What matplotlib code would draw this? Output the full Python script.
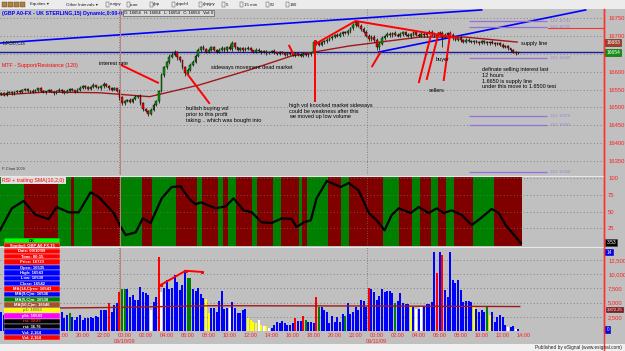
import matplotlib
matplotlib.use('Agg')
import matplotlib.pyplot as plt
from matplotlib.patches import Rectangle
from matplotlib.transforms import blended_transform_factory as btf
import numpy as np

plt.rcParams['font.family'] = ['Liberation Sans', 'DejaVu Sans']

# ---------------- data ----------------
first_open = 16538
closes = [16540, 16536, 16541, 16544, 16539, 16542,
          16546, 16543, 16548, 16551, 16545, 16547,
          16544, 16549, 16553, 16547, 16542, 16545,
          16548, 16544, 16540, 16546, 16550, 16545,
          16541, 16547, 16552, 16548, 16544, 16549,
          16555, 16560, 16557, 16552, 16558, 16562,
          16556, 16553, 16559, 16565, 16560, 16554,
          16550, 16553, 16546, 16528, 16512,
          16518, 16522, 16516, 16524, 16530, 16533,
          16512, 16496, 16490, 16482, 16494, 16506,
          16518, 16546, 16590, 16612, 16626, 16642,
          16648, 16655, 16640, 16632, 16612, 16596,
          16606, 16620, 16628, 16645, 16662, 16670,
          16664, 16656, 16662, 16668, 16660, 16656,
          16662, 16666, 16660, 16670, 16664, 16680,
          16668, 16662, 16665, 16660, 16664, 16667,
          16660, 16656, 16662, 16658, 16654, 16657,
          16652, 16656, 16659, 16654, 16650, 16655,
          16652, 16648, 16653, 16650, 16646, 16651,
          16648, 16644, 16650, 16646, 16649, 16652,
          16684, 16680, 16676, 16682, 16685, 16690,
          16694, 16698, 16702, 16700, 16706, 16710,
          16708, 16714, 16722, 16730, 16738, 16728,
          16720, 16712, 16700, 16692, 16698, 16688,
          16668, 16678, 16694, 16700, 16706, 16702,
          16708, 16704, 16700, 16706, 16710, 16703,
          16699, 16705, 16710, 16704, 16700, 16706,
          16702, 16708, 16712, 16705, 16700, 16706,
          16709, 16698, 16704, 16708, 16703, 16695,
          16690, 16694, 16688, 16684, 16690, 16686,
          16682, 16686, 16684, 16680, 16685, 16682,
          16679, 16684, 16681, 16677, 16680, 16676,
          16670, 16672, 16665, 16660, 16656, 16652, 16654]
wick_up = [3,2,4,2,3,5,2,3,4,2,3,2,5,3,2,4,3,2,3,4,
           2,3,5,2,3,4,2,3,2,4,6,3,2,4,3,5,2,3,4,6,
           3,2,4,3,2,5,4,3,2,4,3,5,2,4,3,2,3,4,5,3,
           4,6,5,4,8,6,5,3,4,2,5,4,3,6,5,4,3,5,2,4,
           3,5,4,3,6,4,3,7,5,3,2,4,3,5,4,3,2,4,3,2,
           3,4,2,3,4,2,3,2,4,3,2,3,4,2,3,4,2,3,3,5,
           4,6,3,4,5,3,4,3,5,4,3,5,6,4,5,4,3,5,4,6,
           5,4,6,5,4,6,3,5,4,3,5,4,6,3,4,5,3,4,5,3,
           4,5,3,6,4,5,3,4,6,4,3,5,4,3,4,5,3,4,3,4,
           3,4,2,3,4,3,2,4,3,2,3,4,2,3,2,3,2,2]
wick_dn = [2,4,3,2,5,3,3,2,4,3,2,4,3,2,5,3,2,4,3,2,
           4,3,2,5,3,2,4,3,3,2,4,3,5,2,3,4,3,2,3,4,
           3,5,3,2,4,6,5,4,3,5,4,3,4,6,5,4,7,3,4,3,
           5,4,6,5,4,5,3,6,4,5,7,5,4,3,5,4,6,4,3,5,
           4,3,5,4,3,6,4,3,5,4,3,4,5,3,4,3,5,4,3,4,
           3,4,3,5,4,3,4,3,5,3,4,3,4,5,3,4,3,4,4,3,
           5,4,3,5,4,3,4,5,3,4,5,3,4,5,6,5,4,6,5,4,
           6,5,4,8,6,4,5,3,4,5,3,4,3,5,4,3,4,5,3,4,
           3,4,5,3,4,3,5,4,28,5,4,3,5,4,3,4,5,3,4,3,
           4,3,4,3,5,3,4,3,4,3,5,4,3,4,5,3,4,3]

# 50-bar MA of close (read at a few bars)
ma_bars = [0, 18, 38, 57, 76, 95, 111, 133, 160, 177, 197]
ma_vals = [16535, 16543, 16541, 16530, 16563, 16605, 16644, 16672, 16697, 16697, 16683]

# trend lines (bar index, price)
trend1_bars, trend1_vals = [-0.5, 183.5], [16680, 16773]
trend2_bars, trend2_vals = [144.3, 223.1], [16655, 16773]
support_level = 16654

# MTF support / resistance (120) levels
sr_levels = [16741, 16725, 16639, 16476, 16451, 16320]

# RSI line (bar index, value)
rsi_bars = [0, 4.5, 9, 13.6, 18.5, 21.6, 26.2, 30, 34.5, 37.6, 43.3, 46, 47.9, 51.7,
            54.4, 57.4, 61.6, 65.4, 68.8, 71.9, 74.5, 76.5, 82.2, 86, 89, 92.8, 95.9,
            99.7, 103.5, 107.3, 111.1, 113, 115.7, 118.4, 120.6, 124.5, 129.8, 132.8,
            136.6, 140.5, 143.5, 146.5, 149.2, 151.9, 156.5, 159.5, 163.3, 166.4, 169,
            172.1, 175.9, 179.7, 183.1, 187.3, 190, 192.6, 198.4]
rsi_vals = [22, 55, 66, 45, 39, 57, 49, 49, 79, 72, 48, 27, 15, 19,
            40, 33, 70, 87, 88, 70, 61, 64, 55, 58, 70, 52, 49,
            34, 33, 40, 39, 27, 34, 37, 70, 96, 87, 93,
            82, 48, 37, 22, 45, 55, 48, 57, 48, 55, 48,
            52, 45, 30, 40, 54, 48, 30, 3]
# trailing-SMA state bands (bar boundaries), starting green, alternating
band_edges = [0, 9, 22, 27, 28, 35, 46, 54, 58, 67, 75, 77, 83, 85, 87, 90, 96, 98,
              104, 107, 114, 115, 117, 125, 130, 133, 146, 152, 157, 160, 164, 167,
              170, 173, 180, 188, 199]

# volume
volumes = [3300, 2800, 3000, 2600, 2400, 3100, 2900, 2500, 2700, 3200, 2600, 2300,
           2800, 3000, 2500, 2700, 2900, 2400, 2600, 3100, 2800, 2500, 2900,
           3300, 2300, 2800, 3200, 2500, 1900, 2500, 2800, 1900, 2300,
           2300, 2500, 2300, 2600, 2500, 3700, 3700, 3700, 4900, 3300,
           4600, 4900, 6900, 7400, 7400, 7400, 6000, 6300, 5500, 5500,
           7700, 6900, 6700, 6300, 3700, 5100, 6000, 13000, 6900, 7600,
           9000, 7400, 7600, 9900, 8600, 7200, 8100, 10700, 9300, 9300,
           7400, 7000, 7600, 6500, 5800, 5600, 3200, 4000, 4000, 3300,
           5300, 7000, 3900, 4000, 4000, 5100, 4000, 3200, 3200, 3700,
           3900, 2300, 1900, 1600, 1400, 1900, 1000, 900, 900, 500,
           500, 1000, 1600, 1400, 1800, 1400, 1000, 1000, 1400, 2300,
           1800, 1800, 2600, 1900, 1600, 1600, 1400, 6000, 4200, 4200,
           3700, 3300, 1400, 2600, 1600, 2500, 1600, 3000, 2600, 4900,
           3000, 3300, 4200, 3700, 5500, 5300, 4200, 7600, 7400, 6900,
           5500, 6200, 7400, 6900, 7000, 7100, 6700, 4900, 5300, 6700,
           4900, 4800, 4800, 4200, 4200, 3900, 3900, 4200, 4400, 4800,
           4800, 5100, 13900, 10200, 13900, 13400, 7200, 6000, 13900, 9000,
           8400, 9000, 7200, 5100, 5300, 5300, 5100, 4200, 3900, 3300,
           3700, 3300, 4200, 2800, 3300, 1600, 2500, 2800, 2500, 1000,
           750, 700, 900, 350, 300]
vol_codes = list("bbbbbbbbbb" "bbbbbbbbbb" "bbbbbbgbbb" "bbbbbbbbbb" "brbbbrggbb"
                 "bbbbbbbwbb" "rwbbbbbbbb" "bggbbbbbyy" "bbbbbbbwbb" "bbbbyyyywy"
                 "wywbbbbbbb" "bbrbbrgbbb" "rgbbbbbbbb" "bgbbbbbbbb" "rbbbbbbbbb"
                 "gbbbbbybwb" "wbbbbbrbrb" "bbbbbbbbbb" "ybbbbgybbb" "bbbwbbwb")
vol_ma_bars = [22, 45, 80, 140, 198]
vol_ma_vals = [4050, 4150, 4450, 4400, 4300]

# time axis (labels under the data window are hidden in the reference)
time_ticks = [23, 31, 39, 47, 55, 63, 71, 79, 87, 95, 103, 111, 119, 127,
              135, 143, 151, 159, 167, 175, 183, 191, 199]
time_labels = ['18:00', '20:00', '22:00', '00:00', '02:00', '04:00',
               '06:00', '08:00', '10:00', '12:00', '14:00', '16:00', '18:00', '20:00',
               '22:00', '00:00', '02:00', '04:00', '06:00', '08:00', '10:00', '12:00',
               '14:00']
date_ticks = [47, 143]
date_labels = ['09/10/09', '09/11/09']
session_breaks = [45.2, 139.8]

price_ticks = [16350, 16400, 16450, 16500, 16550, 16600, 16650, 16700, 16750]
price_labels = ['16350', '16400', '16450', '16500', '16550', '16600', '', '16700', '16750']
rsi_ticks = [25, 50, 75, 100]
vol_ticks = [2500, 5000, 7500, 10000, 12500]

data_window = [("OK", '#00ff00', 'black'),
               ("Symbol: GBP A0-FX,15", '#ff0000', 'white'),
               ("Date: 09/10/09", '#ff0000', 'white'),
               ("Time: 00:15", '#ff0000', 'white'),
               ("Price: 16723", '#ff0000', 'white'),
               ("Open: 16535", '#0000ff', 'white'),
               ("High: 16543", '#0000ff', 'white'),
               ("Low: 16530", '#0000ff', 'white'),
               ("Close: 16542", '#0000ff', 'white'),
               ("MA(14,C)rev: 16543", '#ff0000', 'white'),
               ("MA(9,C)m: 16536", '#0000ff', 'white'),
               ("MA(5,C)m: 16538", '#008000', 'white'),
               ("MA(50,C)m: 16546", '#a0522d', 'white'),
               ("p1: 16553", '#ffff00', '#808080'),
               ("phi: 16543", '#ff00ff', 'white'),
               ("rsi: 30.83", '#000000', '#ff3030'),
               ("rsi: 36.76", '#000000', 'white'),
               ("Vol: 2,164", '#0000ff', 'white'),
               ("Vol: 2,164", '#ff0000', 'white')]

toolbar_items = ["Equities \u25be", "Other Intervals \u25be", "eurjpy", "euro", "gbp",
                 "gbpchf", "gbpjpy", "5", "15 min", "60", "180"]

# ---------------- layout ----------------
W, H = 625, 351
BG = '#c0c0c0'
fig = plt.figure(figsize=(W / 100, H / 100), dpi=100, facecolor=BG)


def fy(py):
    return 1 - py / H


XR = 604
BAR_PX = 2.625
ax_p = fig.add_axes([0, fy(175), XR / W, (175 - 9) / H])
ax_r = fig.add_axes([0, fy(246), XR / W, (246 - 176) / H])
ax_v = fig.add_axes([0, fy(331), XR / W, (331 - 247) / H])

for ax in (ax_p, ax_r, ax_v):
    ax.set_facecolor(BG)
    ax.set_xlim(0, XR / BAR_PX)
    for s in ('left', 'top', 'bottom'):
        ax.spines[s].set_visible(False)
    ax.spines['right'].set_color('#ff3030')
    ax.spines['right'].set_linewidth(1.0)
    ax.yaxis.tick_right()
    ax.tick_params(axis='y', colors='#ff2020', labelsize=4.2, length=0, pad=3)
    ax.grid(axis='y', linestyle=(0, (1, 3)), color='#707070', lw=0.6)
    for sb in session_breaks:
        ax.axvline(sb, color='#707070', lw=0.6, linestyle=(0, (1, 2)), zorder=1)
    ax.axvline(45.8, color='#c08080', lw=0.7, zorder=6)
    ax.set_axisbelow(True)

# ---------------- price panel ----------------
n = len(closes)
x = np.arange(n) + 0.5
o = np.array([first_open] + closes[:-1], dtype=float)
c = np.array(closes, dtype=float)
hi = np.maximum(o, c) + np.array(wick_up)
lo = np.minimum(o, c) - np.array(wick_dn)
ax_p.set_ylim(16310.6, 16775.6)
ax_p.set_yticks(price_ticks)
ax_p.set_yticklabels(price_labels)
ax_p.set_xticks([])

ax_p.axhline(support_level, color='#1a1aa0', lw=1.0, zorder=2)
ax_p.plot(trend1_bars, trend1_vals, color='#0000ff', lw=1.2, zorder=2)
ax_p.plot(trend2_bars, trend2_vals, color='#0000ff', lw=1.2, zorder=2)
ax_p.plot(ma_bars, ma_vals, color='#a01818', lw=1.0, zorder=3)

ax_p.vlines(x, lo, hi, color='black', lw=0.5, zorder=3)
body_bot = np.minimum(o, c)
body_h = np.maximum(np.abs(c - o), 1.5)
cols = np.where(c >= o, '#00a000', '#ff0000')
ax_p.bar(x, body_h, bottom=body_bot, width=0.62, color=cols, edgecolor='black',
         linewidth=0.3, zorder=4)

ax_p.hlines(sr_levels, 178.6, 208.3, color='#9370db', lw=0.9, zorder=2)
for lv in sr_levels:
    ax_p.text(209.6, lv, f"120: {lv}", color='#9a80d0', fontsize=3.0, va='center', zorder=2)
ax_p.plot([208.6, 230.1], [16722, 16722], color='#ff3030', lw=0.8, zorder=2)

RED = '#ff0000'
lw_a = 1.4
for xs, ys in [([46, 60.5], [16619, 16568]),
               ([71.1, 79.9], [16596, 16510]),
               ([110, 111.9], [16675, 16647]),
               ([119.9, 119.9], [16689, 16515]),
               ([119.5, 135.5, 174.7], [16675, 16742, 16694]),
               ([145, 141.6], [16655, 16613]),
               ([159.5, 164.2], [16568, 16703]),
               ([162.5, 167.2], [16577, 16711]),
               ([169, 171.5], [16574, 16708])]:
    ax_p.plot(xs, ys, color=RED, lw=lw_a, zorder=5, solid_capstyle='butt')

tk = dict(fontsize=4.0, color='black', zorder=6, linespacing=1.15)
ax_p.text(37.6, 16624, "interest rate", va='center', **tk)
ax_p.text(70.7, 16503, "bullish buying vol\nprior to this profit\ntaking .. which was bought into",
          va='top', **tk)
ax_p.text(80.3, 16613, "sideways movement dead market", va='center', **tk)
ax_p.text(110, 16512, "high vol knocked market sideways\ncould be weakness after this\nwe moved up low volume",
          va='top', **tk)
ax_p.text(166, 16633, "buyer", va='center', **tk)
ax_p.text(163.3, 16546, "sellers", va='center', **tk)
ax_p.text(198.4, 16678, "supply line", va='center', **tk)
ax_p.text(183.5, 16612, "definate selling interest last\n12 hours\n1.6650 is supply line\nunder this move to 1.6500 test",
          va='top', **tk)

ax_p.text(0.004, 0.975, "(GBP A0-FX - UK STERLING,15) Dynamic,0:00-0:00", transform=ax_p.transAxes,
          color='#0000ff', fontsize=3.8, fontweight='bold', va='center')
ax_p.text(0.205, 0.975, "O: 16654   H: 16654   L: 16654   C: 16654   Vol: 0", transform=ax_p.transAxes,
          color='black', fontsize=3.0, va='center',
          bbox=dict(boxstyle='square,pad=0.25', fc='#d8d8d8', ec='#404040', lw=0.4))
ax_p.text(0.004, 0.795, "MA50,Cls", transform=ax_p.transAxes, color='#202020', fontsize=3.8, va='center')
ax_p.text(0.004, 0.657, "MTF - Support/Resistance (120)", transform=ax_p.transAxes, color='#ff0000',
          fontsize=3.8, va='center')
ax_p.text(0.004, 0.035, "P-Chart 2009", transform=ax_p.transAxes, color='#303030', fontsize=2.8, va='center')

tr_p = btf(ax_p.transAxes, ax_p.transData)
ax_p.text(1.004, 16683, "16683", transform=tr_p, color='white', fontsize=3.6, va='center',
          bbox=dict(boxstyle='square,pad=0.2', fc='#a0402a', ec='#602010', lw=0.4), clip_on=False)
ax_p.text(1.004, 16654, "16654", transform=tr_p, color='white', fontsize=3.6, va='center',
          bbox=dict(boxstyle='square,pad=0.2', fc='#109010', ec='#006000', lw=0.4), clip_on=False)

# ---------------- RSI panel ----------------
ax_r.set_ylim(-1.5, 103.5)
ax_r.set_yticks(rsi_ticks)
ax_r.set_yticklabels([str(t) for t in rsi_ticks])
ax_r.set_xticks([])
for k in range(len(band_edges) - 1):
    ax_r.axvspan(band_edges[k], band_edges[k + 1], color='#008000' if k % 2 == 0 else '#800000',
                 lw=0, zorder=0.5)
ax_r.plot(rsi_bars, rsi_vals, color='black', lw=1.6, zorder=4, solid_joinstyle='round')
ax_r.text(0.004, 0.93, "RSI + trailing SMA(10,2,0)", transform=ax_r.transAxes, color='#ff0000',
          fontsize=3.8, va='center',
          bbox=dict(boxstyle='square,pad=0.2', fc='#e0e0e0', ec='none'))
tr_r = btf(ax_r.transAxes, ax_r.transData)
ax_r.text(1.004, 4.5, "3.53", transform=tr_r, color='white', fontsize=3.6, va='center',
          bbox=dict(boxstyle='square,pad=0.2', fc='black', ec='#404040', lw=0.4), clip_on=False)

# ---------------- volume panel ----------------
cmap = {'b': '#0000ff', 'r': '#ff0000', 'g': '#008000', 'y': '#ffff00', 'w': '#ffffff'}
ax_v.set_ylim(0, 14784)
ax_v.set_yticks(vol_ticks)
ax_v.set_yticklabels([f"{t:,}" for t in vol_ticks])
ax_v.bar(x, volumes, width=0.78, color=[cmap[k] for k in vol_codes], lw=0, zorder=2)
ax_v.plot(vol_ma_bars, vol_ma_vals, color='#a01818', lw=1.0, zorder=3)
ax_v.plot([61.2, 70.7, 76.8], [8100, 10600, 10400], color=RED, lw=1.4, zorder=5,
          marker='s', markersize=1.2)
ax_v.set_xticks([t + 0.5 for t in time_ticks])
ax_v.set_xticklabels(time_labels)
ax_v.tick_params(axis='x', colors='#ff2020', labelsize=4.0, length=0, pad=1.5)
tr_v = btf(ax_v.transData, ax_v.transAxes)
for d, lab in zip(date_ticks, date_labels):
    ax_v.text(d + 0.5, -0.12, lab, transform=tr_v, color='#ff2020', fontsize=4.0,
              ha='center', va='center', clip_on=False)
tr_v2 = btf(ax_v.transAxes, ax_v.transData)
ax_v.text(1.004, 3750, "3,872.25", transform=tr_v2, color='white', fontsize=3.0, va='center',
          bbox=dict(boxstyle='square,pad=0.15', fc='#8b1a1a', ec='#501010', lw=0.4), clip_on=False)
ax_v.text(1.004, 300, "0", transform=tr_v2, color='white', fontsize=3.4, va='center',
          bbox=dict(boxstyle='square,pad=0.2', fc='#0000ff', ec='#000080', lw=0.4), clip_on=False)
ax_v.text(1.004, 13900, "14", transform=tr_v2, color='white', fontsize=3.4, va='center',
          bbox=dict(boxstyle='square,pad=0.2', fc='#0000ff', ec='#000080', lw=0.4), clip_on=False)

# ---------------- figure furniture ----------------
fig.patches.append(Rectangle((0, fy(9)), 1, 9 / H, transform=fig.transFigure,
                             fc='#ececec', ec='none', zorder=0))
fig.patches.append(Rectangle((0, 0), 1, 7 / H, transform=fig.transFigure,
                             fc='#f0f0f0', ec='none', zorder=0))
fig.text(622 / W, 3.5 / H, "Published by eSignal (www.esignal.com)", ha='right', va='center',
         fontsize=3.4, color='#202020')
tb_x = [30, 66, 110, 130, 153, 176, 203, 226, 244, 270, 290]
for tx, lab in zip(tb_x, toolbar_items):
    fig.text(tx / W, fy(4.5), lab, fontsize=3.2, color='#202020', va='center')
for tx in [2, 8, 14, 20]:
    fig.patches.append(Rectangle((tx / W, fy(7)), 4.5 / W, 5 / H, transform=fig.transFigure,
                                 fc='#b08040', ec='#604020', lw=0.3))
for tx in [106, 127, 150, 172, 199, 222, 240, 266, 286]:
    fig.patches.append(Rectangle((tx / W, fy(6.5)), 3 / W, 4 / H, transform=fig.transFigure,
                                 fc='none', ec='#404040', lw=0.3))
# panel separators
for py in (175.5, 246.5):
    fig.add_artist(plt.Line2D([0, XR / W], [fy(py), fy(py)], color='#e8e8e8', lw=0.8))
fig.add_artist(plt.Line2D([XR / W, XR / W], [fy(351), fy(9)], color='#ff3030', lw=1.0))

# data window
ax_d = fig.add_axes([4 / W, fy(340), 56 / W, (340 - 238) / H])
ax_d.set_xlim(0, 1)
ax_d.set_ylim(0, len(data_window))
ax_d.axis('off')
for k, (lab, bg, fg) in enumerate(data_window):
    yb = len(data_window) - k - 1
    ax_d.add_patch(Rectangle((0, yb), 1, 1, fc=bg, ec='#e0e0e0' if k else 'black', lw=0.3))
    ax_d.text(0.5, yb + 0.5, lab, ha='center', va='center', fontsize=3.0, color=fg,
              fontweight='bold')

fig.savefig('out.png', dpi=100, facecolor=BG)
